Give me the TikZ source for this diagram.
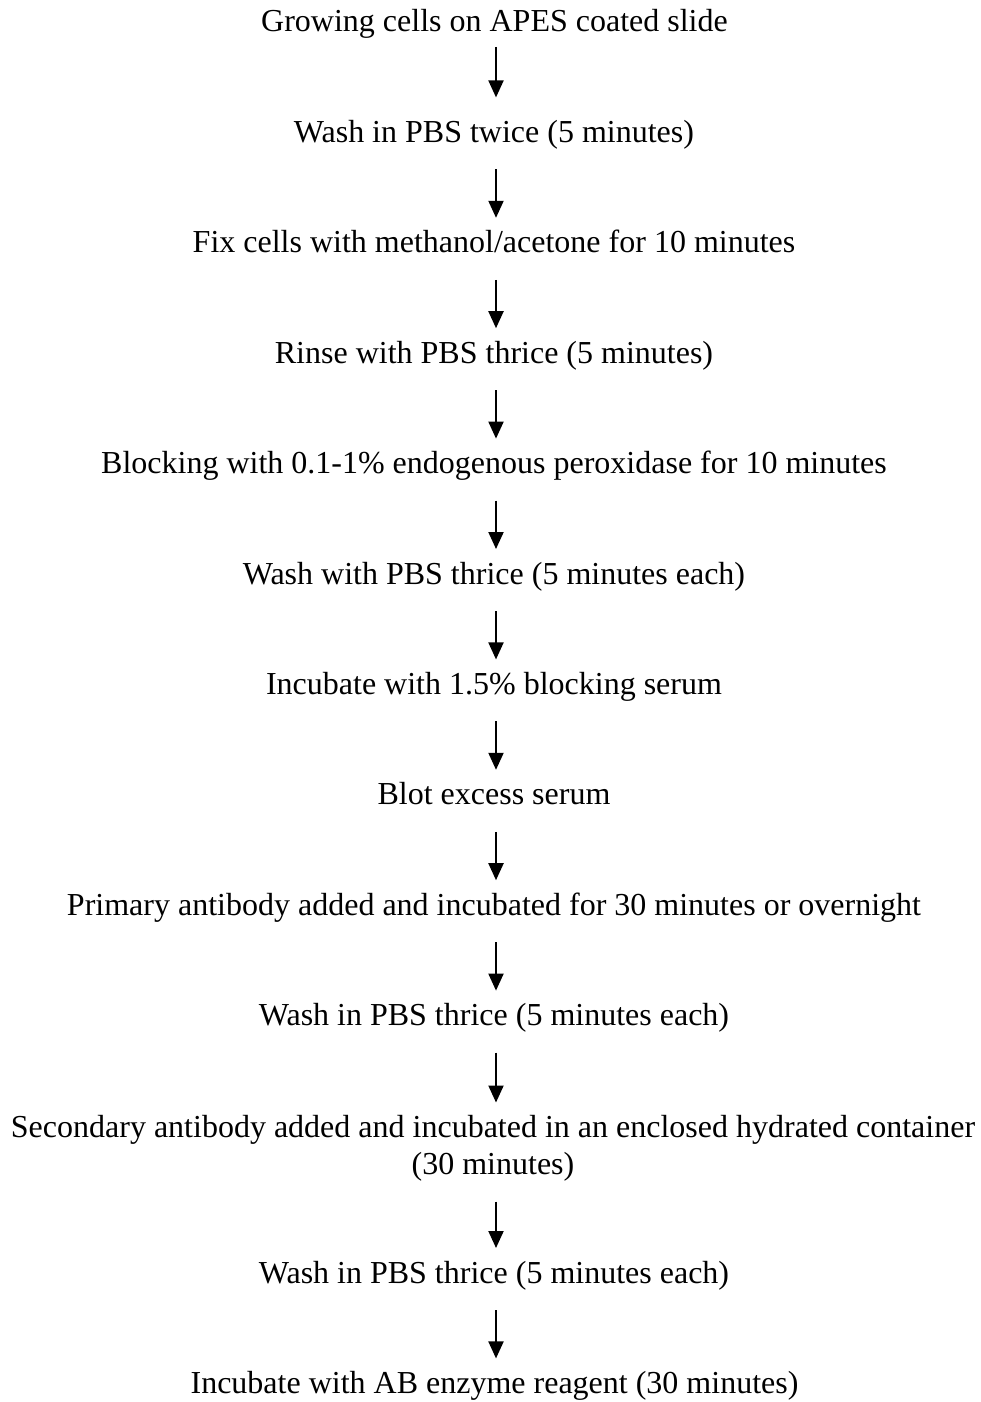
\documentclass[tikz,border=0pt]{standalone}
\usepackage{fontspec}
\setmainfont{Liberation Serif}
\usetikzlibrary{arrows.meta}
\tikzset{
  stepnode/.style={inner sep=0pt, outer sep=0pt, anchor=base, text height=22pt, text depth=7pt,
    font=\fontsize{32}{37}\selectfont, align=center},
  flowarrow/.style={line width=2pt, -{Triangle[width=15pt,length=17pt]}, shorten <=20pt, shorten >=13pt}
}
\begin{document}
\begin{tikzpicture}[x=1pt,y=-1pt]
\useasboundingbox (0,0) rectangle (981,1402);
\node[stepnode] (s1) at (494.5,32) {Growing cells on APES coated slide};
\node[stepnode] (s2) at (494,142.4) {Wash in PBS twice (5 minutes)};
\node[stepnode] (s3) at (494,252.8) {Fix cells with methanol/acetone for 10 minutes};
\node[stepnode] (s4) at (494,363.2) {Rinse with PBS thrice (5 minutes)};
\node[stepnode] (s5) at (494,473.6) {Blocking with 0.1-1\% endogenous peroxidase for 10 minutes};
\node[stepnode] (s6) at (494,584) {Wash with PBS thrice (5 minutes each)};
\node[stepnode] (s7) at (494,694.4) {Incubate with 1.5\% blocking serum};
\node[stepnode] (s8) at (494,804.8) {Blot excess serum};
\node[stepnode] (s9) at (494,915.2) {Primary antibody added and incubated for 30 minutes or overnight};
\node[stepnode] (s10) at (494,1025.6) {Wash in PBS thrice (5 minutes each)};
\node[inner sep=0pt, outer sep=0pt, anchor=north, font=\fontsize{32}{37}\selectfont, align=center] (s11) at (493,1115.5)
  {Secondary antibody added and incubated in an enclosed hydrated container\\(30 minutes)};
\node[stepnode] (s12) at (494,1283) {Wash in PBS thrice (5 minutes each)};
\node[stepnode] (s13) at (494.5,1393.4) {Incubate with AB enzyme reagent (30 minutes)};
\draw[flowarrow, shorten <=8pt, shorten >=23pt] (s1.south -| 496,0) -- (s2.north -| 496,0);
\foreach \a/\b in {s2/s3,s3/s4,s4/s5,s5/s6,s6/s7,s7/s8,s8/s9,s9/s10,s10/s11,s11/s12,s12/s13}
  \draw[flowarrow] (\a.south -| 496,0) -- (\b.north -| 496,0);
\end{tikzpicture}
\end{document}
